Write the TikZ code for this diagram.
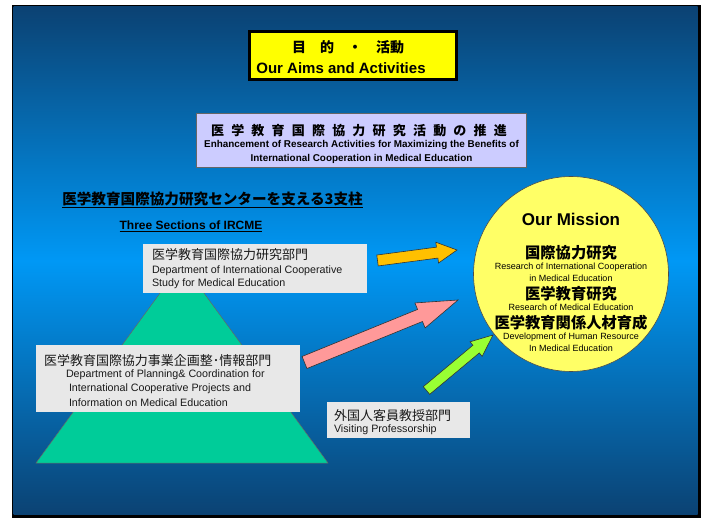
\documentclass[tikz,border=0pt]{standalone}
\usepackage{fontspec}
\setmainfont{Liberation Sans}
\newfontfamily\cjk{Noto Sans CJK JP}
\usetikzlibrary{calc}
\definecolor{bgdark}{HTML}{0B4273}
\definecolor{bgmid}{HTML}{0098F5}
\definecolor{ttlyel}{HTML}{FFFF00}
\definecolor{lav}{HTML}{CCCCFF}
\definecolor{boxgray}{HTML}{E8E8E8}
\definecolor{trigreen}{HTML}{00CC99}
\definecolor{circyel}{HTML}{FFFF66}
\definecolor{arrorange}{HTML}{FFC000}
\definecolor{arrpink}{HTML}{FF9999}
\definecolor{arrgreen}{HTML}{99FF33}
\newcommand\fsz[1]{\fontsize{#1}{#1}\selectfont}
\newcommand\blockarr[6]{%
  \coordinate (#1h) at ($(#2)!#5!(#1)$);
  \draw[arrowline, fill=#6] ($(#1)!#3!90:(#2)$) -- ($(#1h)!#3!90:(#2)$) -- ($(#1h)!#4!90:(#2)$) -- (#2)
    -- ($(#1h)!#4!-90:(#2)$) -- ($(#1h)!#3!-90:(#2)$) -- ($(#1)!#3!-90:(#2)$) -- cycle;}
\begin{document}
\begin{tikzpicture}[x=1pt,y=-1pt,
  every node/.style={inner sep=0pt, outer sep=0pt},
  graybox/.style={rectangle, fill=boxgray},
  arrowline/.style={draw=black!80, line width=0.6pt, line join=miter},
  txt/.style={anchor=west, text=black!90},
  cjkline/.style={txt, font=\cjk\fsz{13}},
  engline/.style={txt, font=\fsz{10.7}},
  circcjk/.style={font=\cjk\bfseries\fsz{15.3}},
  circeng/.style={font=\fsz{9}}]
\useasboundingbox (0,0) rectangle (707,518);
\fill[white] (0,0) rectangle (707,518);
\fill[black] (12,5.5) rectangle (700.5,517.5);
\shade[top color=bgdark, bottom color=bgdark, middle color=bgmid] (13.5,7) rectangle (697.5,514.5);

% title
\node[rectangle, draw=black, line width=2.5pt, fill=ttlyel, minimum width=207pt, minimum height=48pt] (title) at (353,55.5) {};
\node[font=\cjk\bfseries\fsz{14}] (titlejp) at (348,47) {目　的　・　活動};
\node[font=\bfseries\fsz{15}] (titleen) at (341,68) {Our Aims and Activities};

% lavender box
\node[rectangle, draw=black!60, line width=0.6pt, fill=lav, minimum width=330pt, minimum height=54pt] (promo) at (361,140) {};
\node[font=\cjk\bfseries\fsz{13}] (promojp) at (359,131) {医\hspace{7.2pt}学\hspace{7.2pt}教\hspace{7.2pt}育\hspace{7.2pt}国\hspace{7.2pt}際\hspace{7.2pt}協\hspace{7.2pt}力\hspace{7.2pt}研\hspace{7.2pt}究\hspace{7.2pt}活\hspace{7.2pt}動\hspace{7.2pt}の\hspace{7.2pt}推\hspace{7.2pt}進};
\node[font=\bfseries\fsz{9.9}] (promoen1) at (361.5,145) {Enhancement of Research Activities for Maximizing the Benefits of};
\node[font=\bfseries\fsz{9.9}] (promoen2) at (361.5,159) {International Cooperation in Medical Education};

% headings
\node[font=\cjk\bfseries\fsz{14.6}] (pillars) at (212.5,200) {\underline{医学教育国際協力研究センターを支える3支柱}};
\node[font=\bfseries\fsz{12}] (sections) at (191,226) {\underline{Three Sections of IRCME}};

% triangle
\filldraw[fill=trigreen, draw=black!60, line width=0.5pt] (182,263) -- (328,463) -- (36,463) -- cycle;

% box 1
\node[graybox, minimum width=224pt, minimum height=49pt] (dept1) at (255,268.5) {};
\node[cjkline] (dept1jp) at (152,255) {医学教育国際協力研究部門};
\node[engline] (dept1en1) at (152,271) {Department of International Cooperative};
\node[engline] (dept1en2) at (152,283.5) {Study for Medical Education};

% box 2
\node[graybox, minimum width=264pt, minimum height=67pt] (dept2) at (168,378.5) {};
\node[cjkline] (dept2jp) at (44,361) {医学教育国際協力事業企画整･情報部門};
\node[engline] (dept2en1) at (66,374.5) {Department of Planning\& Coordination for};
\node[engline] (dept2en2) at (69,388.5) {International Cooperative Projects and};
\node[engline] (dept2en3) at (69,402.5) {Information on Medical Education};

% box 3
\node[graybox, minimum width=143pt, minimum height=36pt] (dept3) at (398.5,420) {};
\node[cjkline] (dept3jp) at (334,415.5) {外国人客員教授部門};
\node[engline] (dept3en) at (334,429.5) {Visiting Professorship};

% mission circle
\node[circle, fill=circyel, draw=black!70, line width=0.6pt, minimum size=195pt] (mission) at (571,274) {};
\node[font=\bfseries\fsz{17}] (missiont) at (571,219) {Our Mission};
\node[circcjk] (m1jp) at (571,253) {国際協力研究};
\node[circeng] (m1en1) at (571,267) {Research of International Cooperation};
\node[circeng] (m1en2) at (571,278) {in Medical Education};
\node[circcjk] (m2jp) at (571,294) {医学教育研究};
\node[circeng] (m2en) at (571,307) {Research of Medical Education};
\node[circcjk] (m3jp) at (571,323) {医学教育関係人材育成};
\node[circeng] (m3en1) at (571,337) {Development of Human Resource};
\node[circeng] (m3en2) at (571,348) {In Medical Education};

% block arrows
\coordinate (ot) at (377.5,260.5);
\coordinate (otip) at (457,250);
\blockarr{ot}{otip}{5.5pt}{10.5pt}{20pt}{arrorange}
\coordinate (pt) at (304.5,362.5);
\coordinate (ptip) at (458,300);
\blockarr{pt}{ptip}{6.5pt}{13.5pt}{41pt}{arrpink}
\coordinate (gt) at (426.5,390.5);
\coordinate (gtip) at (493,335);
\blockarr{gt}{gtip}{5pt}{9.5pt}{22pt}{arrgreen}
\end{tikzpicture}
\end{document}
